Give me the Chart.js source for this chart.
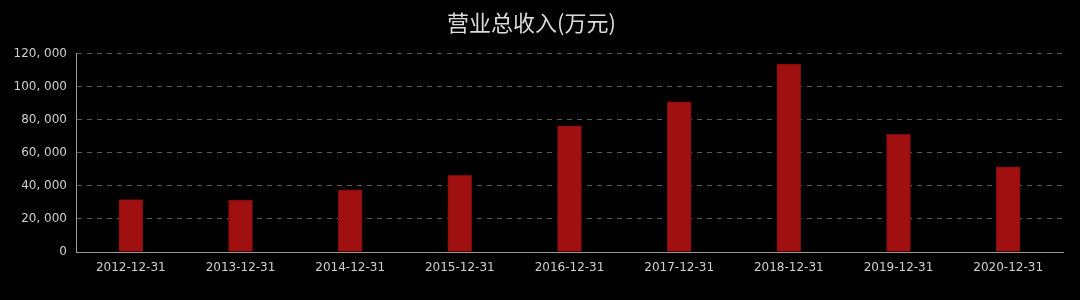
<!DOCTYPE html>
<html>
<head>
<meta charset="utf-8">
<script src="https://cdn.jsdelivr.net/npm/chart.js@4/dist/chart.umd.min.js"></script>
<style>
html,body{margin:0;padding:0;background:#000;}
#wrap{width:1080px;height:300px;position:relative;}
</style>
</head>
<body>
<div id="wrap"><canvas id="c"></canvas></div>
<script>
const chartTitle = "营业总收入(万元)";
const categories = ["2012-12-31","2013-12-31","2014-12-31","2015-12-31","2016-12-31","2017-12-31","2018-12-31","2019-12-31","2020-12-31"];
const revenue = [31600, 31400, 37600, 46300, 76300, 90800, 113600, 71100, 51500];
const yTicks = [0, 20000, 40000, 60000, 80000, 100000, 120000];

function fmt(v){ return Number(v).toLocaleString('en-US').replace(/,/g, ', '); }

new Chart(document.getElementById('c'), {
  type: 'bar',
  data: {
    labels: categories,
    datasets: [{
      data: revenue,
      backgroundColor: '#a01010',
      borderColor: '#7c0a0a',
      borderWidth: 1,
      barThickness: 24
    }]
  },
  options: {
    responsive: true,
    maintainAspectRatio: false,
    animation: false,
    layout: { padding: { left: 0, right: 17, top: 0, bottom: 0 } },
    plugins: {
      legend: { display: false },
      tooltip: { enabled: false },
      title: {
        display: true,
        text: chartTitle,
        color: '#dcdcdc',
        font: { family: '"Noto Sans CJK SC", sans-serif', size: 22, weight: 'normal', lineHeight: 1.2 },
        padding: { top: 9, bottom: 18 }
      }
    },
    scales: {
      x: {
        grid: { display: false, drawTicks: false },
        border: { display: true, color: '#9a9a9a', width: 1 },
        ticks: {
          color: '#d0d0d0',
          font: { family: '"DejaVu Sans", sans-serif', size: 12 },
          padding: 9,
          maxRotation: 0,
          autoSkip: false
        },
        afterFit(scale){ scale.height = 48; }
      },
      y: {
        min: yTicks[0],
        max: yTicks[yTicks.length - 1],
        afterBuildTicks(scale){ scale.ticks = yTicks.map(v => ({ value: v })); },
        grid: { color: '#5a5a5a', lineWidth: 1, drawTicks: false },
        border: { display: true, color: '#9a9a9a', width: 1, dash: [5,5] },
        ticks: {
          color: '#d0d0d0',
          font: { family: '"DejaVu Sans", sans-serif', size: 12 },
          padding: 9,
          callback: (v) => fmt(v)
        },
        afterFit(scale){ scale.width = 76; }
      }
    }
  }
});
</script>
</body>
</html>
